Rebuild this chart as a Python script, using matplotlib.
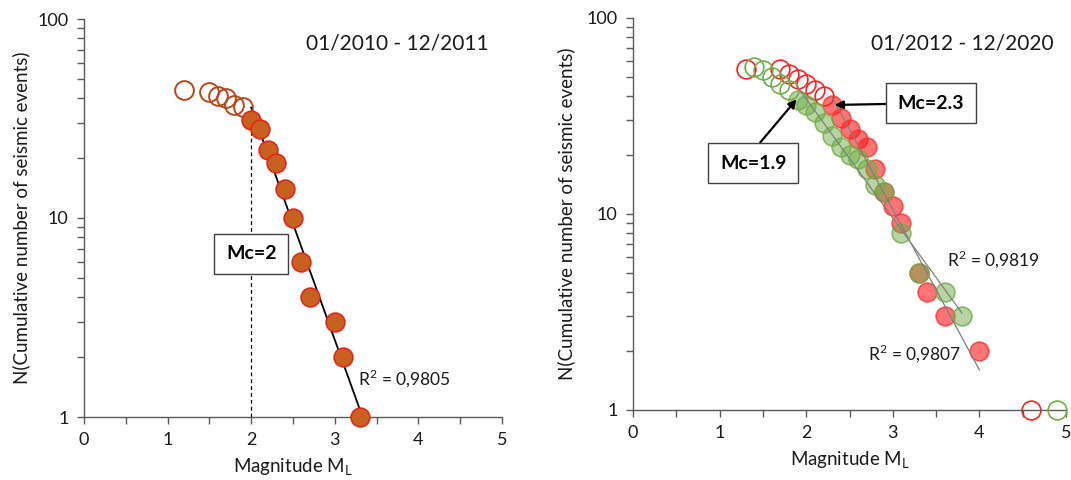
import numpy as np
import matplotlib
matplotlib.use("Agg")
import matplotlib.pyplot as plt
from matplotlib.ticker import FixedLocator, NullFormatter, FixedFormatter

plt.rcParams['font.family'] = ['Lato', 'DejaVu Sans']
plt.rcParams['mathtext.fontset'] = 'custom'
plt.rcParams['mathtext.rm'] = 'Lato'

# ---------------- data ----------------
# Left panel: 01/2010 - 12/2011
m1_open = [1.2, 1.5, 1.6, 1.7, 1.8, 1.9]
n1_open = [44, 43, 41, 40, 37, 36]
m1_fill = [2.0, 2.1, 2.2, 2.3, 2.4, 2.5, 2.6, 2.7, 3.0, 3.1, 3.3]
n1_fill = [31, 28, 22, 19, 14, 10, 6, 4, 3, 2, 1]
r2_left = r"R$^\mathregular{2}$ = 0,9805"
mc_left = 2.0

# Right panel: 01/2012 - 12/2020 (red series)
mr_open = [1.3, 1.7, 1.8, 1.9, 2.0, 2.1, 2.2, 4.6]
nr_open = [55, 55, 52, 49, 46, 43, 40, 1]
mr_fill = [2.3, 2.4, 2.5, 2.6, 2.7, 2.8, 2.9, 3.0, 3.1, 3.3, 3.4, 3.6, 4.0]
nr_fill = [36, 31, 27, 24, 22, 17, 13, 11, 9, 5, 4, 3, 2]
r2_red = r"R$^\mathregular{2}$ = 0,9807"

# Right panel (green series)
mg_open = [1.4, 1.5, 1.6, 1.7, 1.8, 4.9]
ng_open = [56, 54, 50, 46, 43, 1]
mg_fill = [1.9, 2.0, 2.1, 2.2, 2.3, 2.4, 2.5, 2.6, 2.7, 2.8, 2.9, 3.1, 3.3, 3.6, 3.8]
ng_fill = [38, 36, 33, 29, 25, 22, 20, 19, 17, 14, 13, 8, 5, 4, 3]
r2_green = r"R$^\mathregular{2}$ = 0,9819"

titles = ["01/2010 - 12/2011", "01/2012 - 12/2020"]
ylabel = "N(Cumulative number of seismic events)"
xlabel = r"Magnitude M$_\mathregular{L}$"

# ---------------- figure ----------------
fig = plt.figure(figsize=(10.71, 4.80), dpi=100)
axL = fig.add_axes([84/1071, 1-417/480, 418/1071, 398/480])
axR = fig.add_axes([633/1071, 1-410/480, 433/1071, 392/480])

spine_c = '#595959'
txt_c = '#1a1a1a'
ms = 13.5

def style(ax):
    ax.set_yscale('log')
    ax.set_xlim(0, 5)
    ax.set_ylim(1, 100)
    for s in ['top', 'right']:
        ax.spines[s].set_visible(False)
    for s in ['left', 'bottom']:
        ax.spines[s].set_color(spine_c)
        ax.spines[s].set_linewidth(1.0)
    ax.xaxis.set_major_locator(FixedLocator([0, 1, 2, 3, 4, 5]))
    ax.xaxis.set_minor_locator(FixedLocator([0.5, 1.5, 2.5, 3.5, 4.5]))
    ax.yaxis.set_major_locator(FixedLocator([1, 10, 100]))
    ax.yaxis.set_major_formatter(FixedFormatter(['1', '10', '100']))
    ax.yaxis.set_minor_locator(FixedLocator([2, 3, 4, 5, 6, 7, 8, 9,
                                             20, 30, 40, 50, 60, 70, 80, 90]))
    ax.yaxis.set_minor_formatter(NullFormatter())
    ax.tick_params(which='both', direction='out', color=spine_c, width=1.0,
                   labelsize=13, labelcolor=txt_c)
    ax.tick_params(which='major', length=5, pad=6)
    ax.tick_params(which='minor', length=5)
    ax.set_xlabel(xlabel, fontsize=13.5, color=txt_c, labelpad=6)
    ax.set_ylabel(ylabel, fontsize=13.5, color=txt_c)

style(axL)
style(axR)
axL.yaxis.set_label_coords(-0.128, 0.5)
axR.yaxis.set_label_coords(-0.133, 0.5)

# ---- left panel ----
lx = np.array(m1_fill)
ly = np.log10(n1_fill)
k1, b1 = np.polyfit(lx, ly, 1)
xx = np.array([lx.min(), lx.max()])
axL.plot(xx, 10**(k1*xx + b1), color='black', lw=1.3, zorder=2)

axL.plot([mc_left, mc_left], [1, n1_fill[0]], color='black', lw=0.9,
         ls=(0, (3, 2.5)), zorder=1)

axL.plot(m1_open, n1_open, 'o', ms=ms, mfc='none', mec='#B5471B', mew=1.4,
         clip_on=False, zorder=3)
axL.plot(m1_fill, n1_fill, 'o', ms=ms, mfc='#C8611F', mec='#E5261A', mew=1.2,
         clip_on=False, zorder=3)

axL.text(mc_left, 6.6, "Mc=2", ha='center', va='center', fontsize=14,
         fontweight='bold', zorder=5,
         bbox=dict(boxstyle='square,pad=0.6', fc='white', ec='#404040', lw=1.0))
axL.text(3.28, 1.57, r2_left, ha='left', va='center', fontsize=12.5,
         color=txt_c, zorder=5)

# ---- right panel ----
for mx, nx in [(mr_fill, nr_fill), (mg_fill, ng_fill)]:
    x = np.array(mx)
    y = np.log10(nx)
    k, b = np.polyfit(x, y, 1)
    xs = np.array([x.min(), x.max()])
    axR.plot(xs, 10**(k*xs + b), color='#7f7f7f', lw=0.9, zorder=4)

axR.plot(mr_open, nr_open, 'o', ms=ms, mfc='none', mec='#FF2020', mew=1.2,
         clip_on=False, zorder=2)
axR.plot(mr_fill, nr_fill, 'o', ms=ms, mfc=(1.0, 0.1, 0.1, 0.6),
         mec=(1.0, 0.2, 0.2, 0.8), mew=1.2, clip_on=False, zorder=2)
axR.plot(mg_open, ng_open, 'o', ms=ms, mfc='none', mec='#70AD47', mew=1.2,
         clip_on=False, zorder=3)
axR.plot(mg_fill, ng_fill, 'o', ms=ms, mfc=(0.44, 0.68, 0.28, 0.5),
         mec=(0.44, 0.68, 0.28, 0.8), mew=1.2, clip_on=False, zorder=3)

box = dict(boxstyle='square,pad=0.6', fc='white', ec='#404040', lw=1.0)
axR.annotate("Mc=2.3", xy=(2.33, 36), xytext=(3.44, 36.8), ha='center',
             va='center', fontsize=14, fontweight='bold', bbox=box, zorder=6,
             arrowprops=dict(arrowstyle='-|>', color='black', lw=1.6,
                             shrinkA=0, shrinkB=0, mutation_scale=12))
axR.annotate("Mc=1.9", xy=(1.89, 38.5), xytext=(1.39, 18.2), ha='center',
             va='center', fontsize=14, fontweight='bold', bbox=box, zorder=6,
             arrowprops=dict(arrowstyle='-|>', color='black', lw=1.6,
                             shrinkA=0, shrinkB=0, mutation_scale=12,
                             relpos=(0.45, 1.0)))

axR.text(3.63, 5.9, r2_green, ha='left', va='center', fontsize=12.5,
         color=txt_c, zorder=5)
axR.text(2.71, 1.95, r2_red, ha='left', va='center', fontsize=12.5,
         color=txt_c, zorder=5)

fig.text(397/1071, 1-43/480, titles[0], ha='center', va='center',
         fontsize=15, color=txt_c)
fig.text(962/1071, 1-43/480, titles[1], ha='center', va='center',
         fontsize=15, color=txt_c)

fig.savefig("out.png", dpi=100, facecolor='white')
